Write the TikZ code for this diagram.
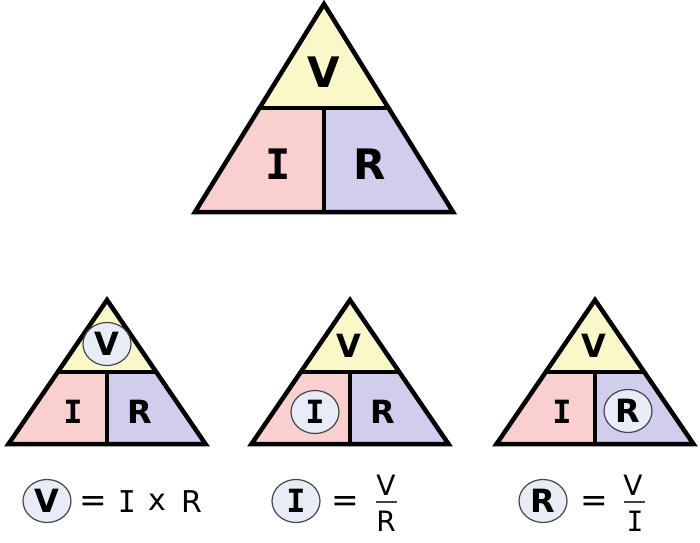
\documentclass[tikz,border=0pt]{standalone}
\usepackage{fontspec}
\setmainfont{DejaVu Sans}
\newfontfamily\serifI{DejaVu Sans Mono}
\usetikzlibrary{calc,shapes.geometric}

\definecolor{vyellow}{RGB}{250,248,200}
\definecolor{ipink}{RGB}{250,207,207}
\definecolor{rlilac}{RGB}{208,206,236}
\definecolor{ringfill}{RGB}{232,236,246}
\definecolor{ringline}{RGB}{70,70,70}

\tikzset{
  edge/.style={line width=4.5pt, black},
  bigletter/.style={font=\fontsize{42}{42}\selectfont\bfseries},
  letter/.style={font=\fontsize{32}{32}\selectfont\bfseries},
  ring/.style={ellipse, draw=ringline, line width=1.2pt, fill=ringfill,
    minimum width=48pt, minimum height=43pt, inner sep=0pt},
  formula/.style={font=\fontsize{30}{30}\selectfont},
  eqsign/.style={font=\fontsize{33}{33}\selectfont},
  fracletter/.style={font=\fontsize{28}{28}\selectfont},
  fracbar/.style={line width=1.8pt, black!75}
}

\begin{document}
\begin{tikzpicture}[x=1pt,y=1pt]
        \useasboundingbox (0,0) rectangle (700,542);
        % big triangle
        \coordinate (T) at (324,538);
        \coordinate (BL) at (195,330);
        \coordinate (BR) at (453,330);
        \coordinate (ML) at ($(T)!0.5!(BL)$);
        \coordinate (MR) at ($(T)!0.5!(BR)$);
        \coordinate (MM) at ($(ML)!0.5!(MR)$);
        \coordinate (BM) at ($(BL)!0.5!(BR)$);
        \fill[vyellow] (T) -- (ML) -- (MR) -- cycle;
        \fill[ipink] (ML) -- (MM) -- (BM) -- (BL) -- cycle;
        \fill[rlilac] (MM) -- (MR) -- (BR) -- (BM) -- cycle;
        \draw[edge] (T) -- (BL) -- (BR) -- cycle;
        \draw[edge] (ML) -- (MR) (MM) -- (BM);
        \node[bigletter] (bigV) at (324,470) {V};
        \node[bigletter] (bigI) at (278,378) {\serifI I};
        \node[bigletter] (bigR) at (370,378) {R};

        % three small triangles
        \foreach \cx/\n in {107/a,350/b,595/c} {
          \coordinate (T\n) at (\cx,242);
          \coordinate (BL\n) at (\cx-98.5,98);
          \coordinate (BR\n) at (\cx+98.5,98);
          \coordinate (ML\n) at ($(T\n)!0.5!(BL\n)$);
          \coordinate (MR\n) at ($(T\n)!0.5!(BR\n)$);
          \coordinate (MM\n) at ($(ML\n)!0.5!(MR\n)$);
          \coordinate (BM\n) at ($(BL\n)!0.5!(BR\n)$);
          \fill[vyellow] (T\n) -- (ML\n) -- (MR\n) -- cycle;
          \fill[ipink] (ML\n) -- (MM\n) -- (BM\n) -- (BL\n) -- cycle;
          \fill[rlilac] (MM\n) -- (MR\n) -- (BR\n) -- (BM\n) -- cycle;
          \draw[edge] (T\n) -- (BL\n) -- (BR\n) -- cycle;
          \draw[edge] (ML\n) -- (MR\n) (MM\n) -- (BM\n);
        }

        % V = I x R
        \node[letter,ring] (Va) at (107,198) {V};
        \node[letter] (Ia) at (73,130) {\serifI I};
        \node[letter] (Ra) at (140,130) {R};
        \node[letter,ring] (fVa) at (47,41) {V};
        \node[eqsign] (eqa) at (93,38) {=};
        \node[formula] (fIa) at (127,40) {\serifI I};
        \node[formula] (fxa) at (157,40) {x};
        \node[formula] (fRa) at (192,40) {R};

        % I = V/R
        \node[letter] (Vb) at (349,196) {V};
        \node[letter,ring] (Ib) at (315,130) {\serifI I};
        \node[letter] (Rb) at (383,130) {R};
        \node[letter,ring] (fIb) at (296,41) {\serifI I};
        \node[eqsign] (eqb) at (345,38) {=};
        \node[fracletter] (numb) at (386,57) {V};
        \node[fracletter] (denb) at (386,21) {R};
        \draw[fracbar] (376,40) -- (397,40);

        % R = V/I
        \node[letter] (Vc) at (594,196) {V};
        \node[letter] (Ic) at (562,130) {\serifI I};
        \node[letter,ring] (Rc) at (628,131) {R};
        \node[letter,ring] (fRc) at (543,41) {R};
        \node[eqsign] (eqc) at (594,38) {=};
        \node[fracletter] (numc) at (633,57) {V};
        \node[fracletter] (denc) at (635,21) {\serifI I};
        \draw[fracbar] (624,40) -- (645,40);
    \end{tikzpicture}
\end{document}
